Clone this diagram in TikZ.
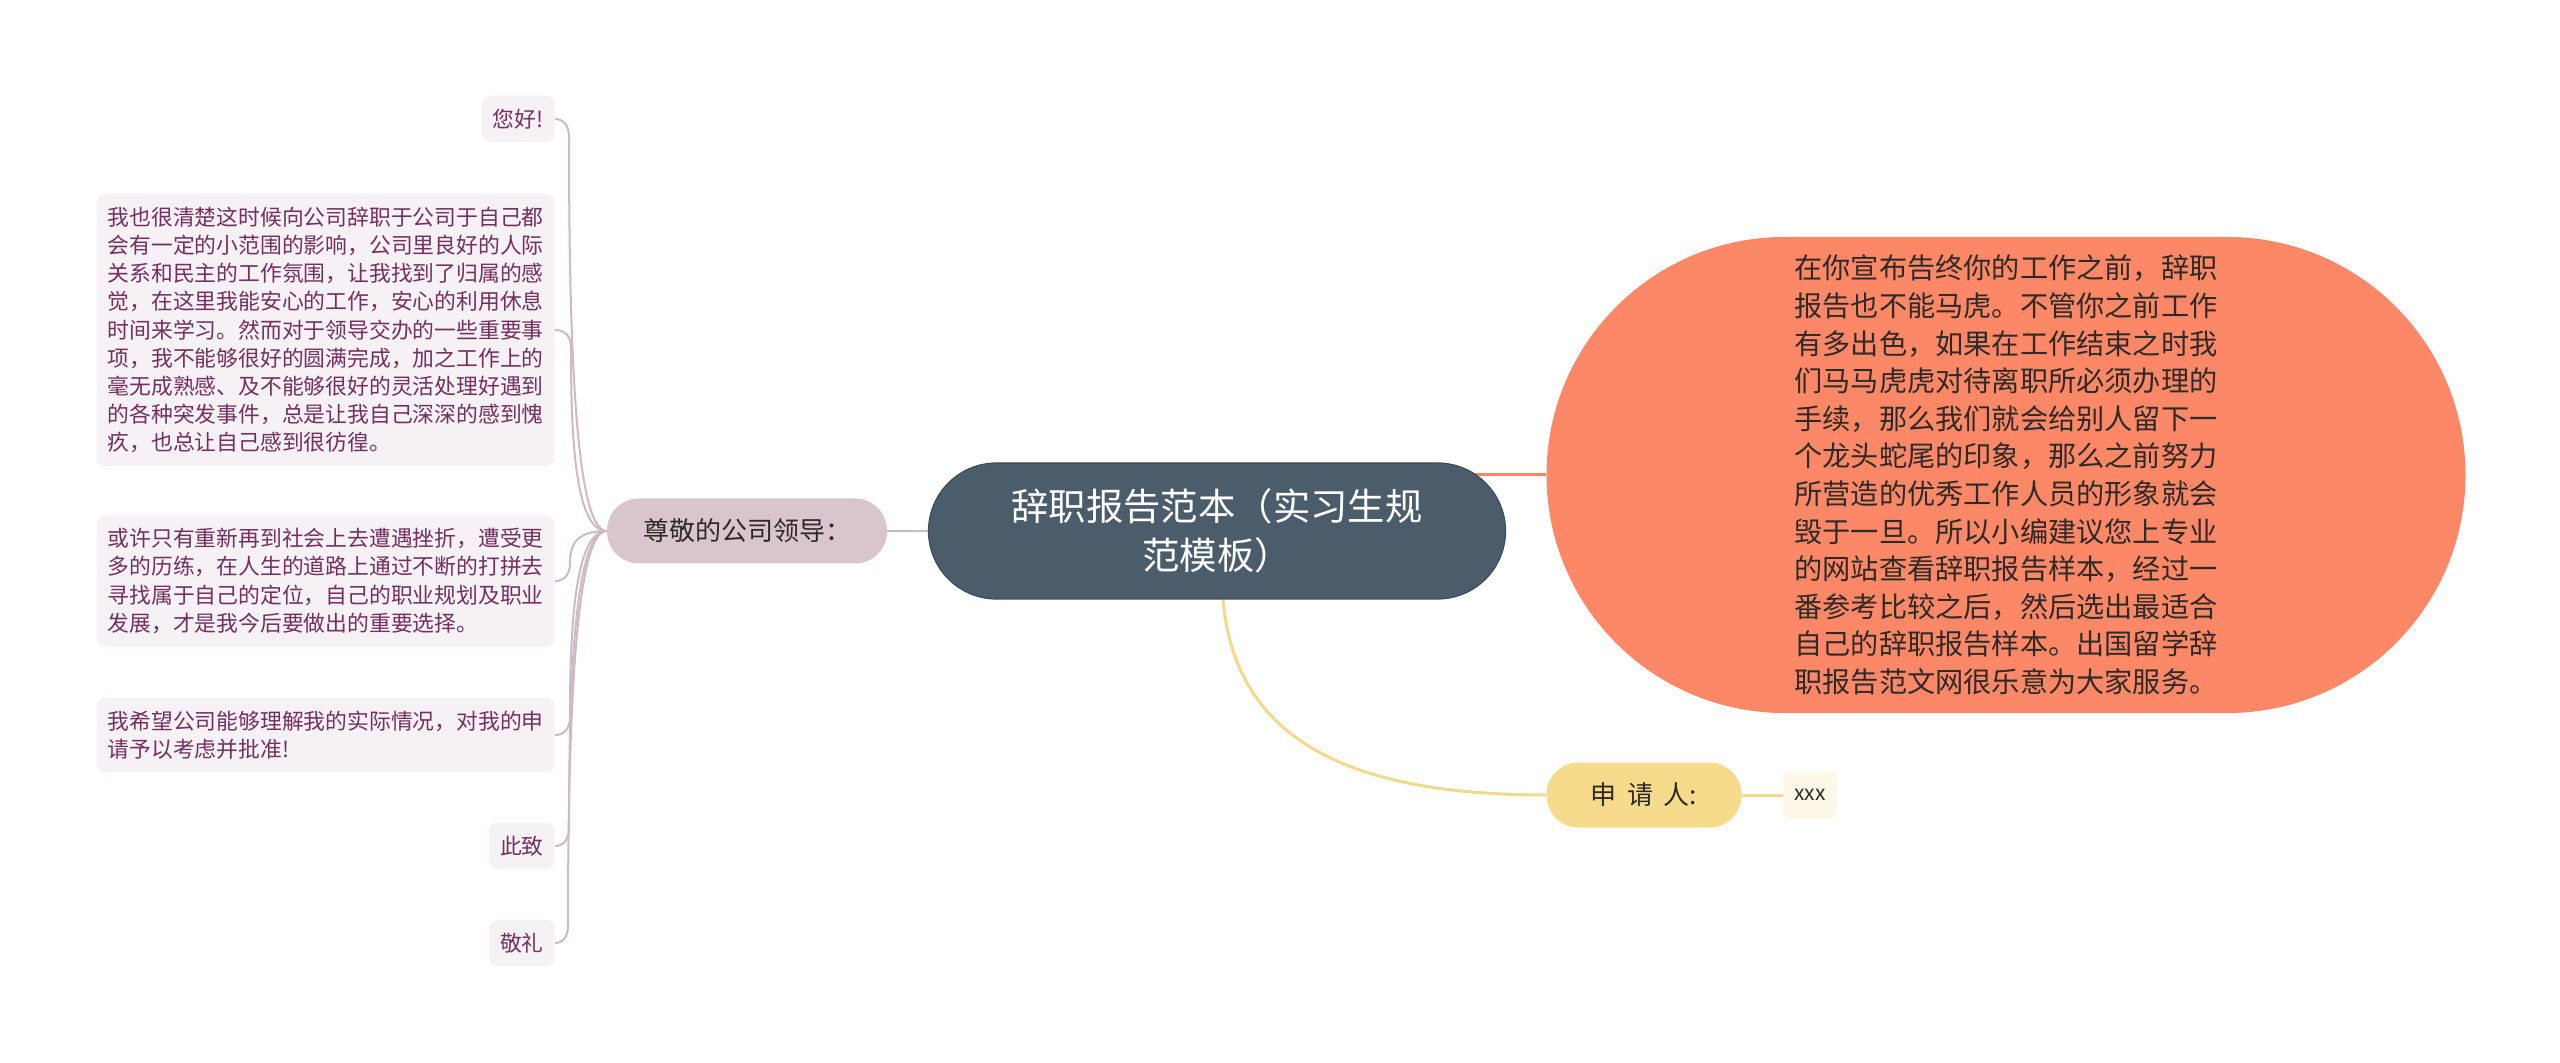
\documentclass[tikz,border=0pt]{standalone}
\usepackage{fontspec}
\setmainfont{Noto Sans CJK SC}
\usetikzlibrary{backgrounds}
\definecolor{rootfill}{HTML}{4B5C6B}
\definecolor{rootdraw}{HTML}{3E4D59}
\definecolor{mauve}{HTML}{D8C5CD}
\definecolor{mauveline}{HTML}{CDBAC4}
\definecolor{leaffill}{HTML}{F6F1F4}
\definecolor{leaftext}{HTML}{74305F}
\definecolor{coral}{HTML}{FC8867}
\definecolor{coralline}{HTML}{F3876A}
\definecolor{gold}{HTML}{F6DB8C}
\definecolor{goldline}{HTML}{F2D98B}
\definecolor{cream}{HTML}{FDF8E8}
\definecolor{darktext}{HTML}{2E2A28}
\tikzset{
  rootbox/.style={fill=rootfill, draw=rootdraw, line width=0.6pt, rounded corners=34pt,
    minimum width=288.5pt, minimum height=68pt, text=white, align=center,
    font=\fontsize{18.7}{24.5}\selectfont, inner sep=0pt},
  bigbox/.style={fill=coral, rounded corners=119pt, minimum width=459.5pt, minimum height=238pt,
    text=darktext, align=left, font=\fontsize{14.1}{18.8}\selectfont, inner sep=0pt},
  pillbox/.style={rounded corners=16pt, minimum height=32.5pt, inner sep=0pt,
    text=darktext, font=\fontsize{13}{16}\selectfont},
  leafbox/.style={fill=leaffill, rounded corners=4pt, inner xsep=5.5pt, inner ysep=6.5pt,
    align=left, anchor=east, text=leaftext, font=\fontsize{10.9}{14.05}\selectfont},
  lconn/.style={draw=mauveline, line width=1pt},
  oconn/.style={draw=coralline, line width=1.5pt},
  yconn/.style={draw=goldline, line width=1.5pt},
}
\begin{document}
\begin{tikzpicture}[x=0.5pt,y=-0.5pt]
\useasboundingbox (0,0) rectangle (2560,1063);

\node[rootbox] (root) at (1217,531) {辞职报告范本（实习生规\\范模板）};
\node[bigbox] (big) at (2006,475) {在你宣布告终你的工作之前，辞职\\
报告也不能马虎。不管你之前工作\\
有多出色，如果在工作结束之时我\\
们马马虎虎对待离职所必须办理的\\
手续，那么我们就会给别人留下一\\
个龙头蛇尾的印象，那么之前努力\\
所营造的优秀工作人员的形象就会\\
毁于一旦。所以小编建议您上专业\\
的网站查看辞职报告样本，经过一\\
番参考比较之后，然后选出最适合\\
自己的辞职报告样本。出国留学辞\\
职报告范文网很乐意为大家服务。};
\node[pillbox, fill=mauve, minimum width=140pt] (lead) at (747,531) {尊敬的公司领导：};
\node[pillbox, fill=gold, minimum width=97.5pt] (appl) at (1644,795) {申\hspace{5.3pt}请\hspace{5.3pt}人:\hspace{3pt}};
\node[fill=cream, rounded corners=4pt, minimum width=27pt, minimum height=24pt, inner sep=0pt,
  text=darktext, font=\fontsize{10.5}{12}\selectfont] (xxx) at (1810,795) {xxx};

\node[leafbox] (l1) at (555,119) {您好!};
\node[leafbox] (l2) at (555,330) {我也很清楚这时候向公司辞职于公司于自己都\\
会有一定的小范围的影响，公司里良好的人际\\
关系和民主的工作氛围，让我找到了归属的感\\
觉，在这里我能安心的工作，安心的利用休息\\
时间来学习。然而对于领导交办的一些重要事\\
项，我不能够很好的圆满完成，加之工作上的\\
毫无成熟感、及不能够很好的灵活处理好遇到\\
的各种突发事件，总是让我自己深深的感到愧\\
疚，也总让自己感到很彷徨。};
\node[leafbox] (l3) at (555,581) {或许只有重新再到社会上去遭遇挫折，遭受更\\
多的历练，在人生的道路上通过不断的打拼去\\
寻找属于自己的定位，自己的职业规划及职业\\
发展，才是我今后要做出的重要选择。};
\node[leafbox] (l4) at (555,735) {我希望公司能够理解我的实际情况，对我的申\\
请予以考虑并批准!};
\node[leafbox] (l5) at (555,846) {此致};
\node[leafbox] (l6) at (555,943) {敬礼};

\begin{pgfonlayer}{background}
\fill[white] (0,0) rectangle (2560,1063);
\draw[oconn] (big.west) -- (root.center |- big.west);
\draw[yconn] ([xshift=3pt]root.south) .. controls +(12,141) and (1350,795) .. (appl.west);
\draw[yconn] (appl.east) -- (xxx.west);
\draw[lconn] (lead.east) -- (root.west);
\draw[lconn] (lead.west) .. controls (574,531) and (569,325) .. (569,137) .. controls (569,125) and (563,119) .. (l1.east);
\draw[lconn] (lead.west) .. controls (574,531) and (571,430) .. (571,348) .. controls (571,336) and (565,330) .. (l2.east);
\draw[lconn] (lead.west) .. controls (574,531) and (570,547) .. (570,563) .. controls (570,575) and (564,581) .. (l3.east);
\draw[lconn] (lead.west) .. controls (574,531) and (570,633) .. (570,717) .. controls (570,729) and (564,735) .. (l4.east);
\draw[lconn] (lead.west) .. controls (574,531) and (569,688) .. (569,828) .. controls (569,840) and (563,846) .. (l5.east);
\draw[lconn] (lead.west) .. controls (574,531) and (568,737) .. (568,925) .. controls (568,937) and (563,943) .. (l6.east);
\end{pgfonlayer}
\end{tikzpicture}
\end{document}
